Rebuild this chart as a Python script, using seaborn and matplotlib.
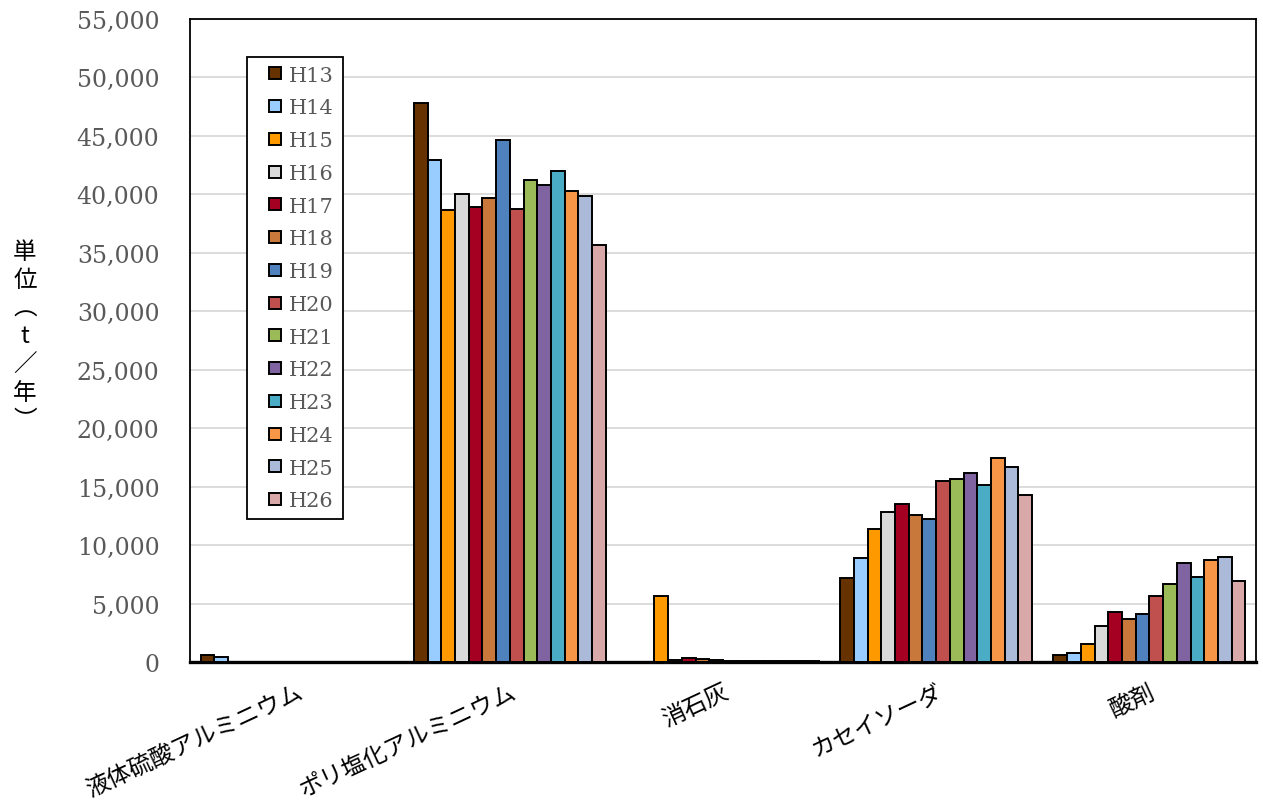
import matplotlib
matplotlib.use("Agg")
import matplotlib.pyplot as plt
import seaborn as sns
import pandas as pd
from matplotlib.patches import Patch, Rectangle
from matplotlib.legend_handler import HandlerPatch
from matplotlib.ticker import FuncFormatter, MultipleLocator

categories = ["液体硫酸アルミニウム", "ポリ塩化アルミニウム", "消石灰", "カセイソーダ", "酸剤"]
years = ["H13", "H14", "H15", "H16", "H17", "H18", "H19",
         "H20", "H21", "H22", "H23", "H24", "H25", "H26"]

liquid_sulfate = [620, 420, 30, 30, 30, 30, 30, 30, 30, 30, 30, 30, 30, 30]
poly_aluminium = [47800, 42900, 38700, 40050, 38950, 39650, 44650,
                  38750, 41250, 40800, 42000, 40250, 39850, 35700]
slaked_lime = [0, 0, 5670, 200, 370, 230, 150, 50, 100, 60, 100, 100, 60, 120]
caustic_soda = [7200, 8900, 11350, 12850, 13500, 12550, 12250,
                15450, 15650, 16200, 15100, 17450, 16650, 14250]
acid = [600, 780, 1550, 3100, 4250, 3650, 4100,
        5650, 6700, 8450, 7250, 8750, 9000, 6900]

colors = ["#663300", "#99ccff", "#ff9900", "#d9d9d9", "#a50021", "#c9783b", "#4f81bd",
          "#c0504d", "#9bbb59", "#8064a2", "#4bacc6", "#f79646", "#aabad8", "#d9a9a9"]

series = [liquid_sulfate, poly_aluminium, slaked_lime, caustic_soda, acid]
rows = []
for cat, vals in zip(categories, series):
    for y, v in zip(years, vals):
        rows.append({"category": cat, "year": y, "value": v})
df = pd.DataFrame(rows)

sns.set_theme(style="white")
plt.rcParams['font.family'] = ['DejaVu Serif', 'Noto Sans CJK JP']

fig = plt.figure(figsize=(12.63, 8.03), dpi=100)
ax = fig.add_axes([190/1263, 1-663/803, 1066/1263, 643/803])

sns.barplot(data=df, x="category", y="value", hue="year", order=categories,
            hue_order=years, palette=colors, saturation=1, width=0.9, gap=0,
            edgecolor="black", linewidth=1.4, errorbar=None, legend=False, ax=ax,
            zorder=3)

ax.set_ylim(0, 55000)
ax.set_xlim(-0.5, 4.5)
ax.yaxis.set_major_locator(MultipleLocator(5000))
ax.yaxis.set_major_formatter(FuncFormatter(lambda v, p: f"{int(v):,}"))
ax.grid(axis="y", color="#d9d9d9", linewidth=1.3, zorder=0)
ax.set_axisbelow(True)
for s in ax.spines.values():
    s.set_color("black")
    s.set_linewidth(1.3)
ax.spines["bottom"].set_linewidth(2.4)
ax.tick_params(axis="both", length=0)
ax.tick_params(axis="y", labelsize=17, labelcolor="#595959", pad=22)
ax.set_xlabel("")
ax.set_ylabel("")
for lab in ax.get_yticklabels():
    lab.set_family(['DejaVu Serif'])

ax.set_xticks(range(len(categories)))
ax.set_xticklabels(categories, rotation=25, ha="right", rotation_mode="anchor",
                   fontsize=17, color="black", family=['Noto Sans CJK JP'])
ax.tick_params(axis="x", pad=13)

ylabel_chars = ["単", "位", "︵", "t", "／", "年", "︶"]
fig.text(25/1263, 1-337/803, "\n".join(ylabel_chars), ha="center", va="center",
         fontsize=17, color="black", family=['Noto Sans CJK JP', 'DejaVu Sans'],
         linespacing=1.28)


def square_patch(legend, orig_handle, xdescent, ydescent, width, height, fontsize):
    s = 0.58 * fontsize
    return Rectangle((-xdescent + width - s, -ydescent + (height - s) / 2), s, s)


handles = [Patch(facecolor=c, edgecolor="black", linewidth=1.4) for c in colors]
leg = ax.legend(handles, years, loc="upper left", bbox_to_anchor=(0.0535, 0.941),
                frameon=True, fancybox=False, edgecolor="black", framealpha=1,
                fontsize=15, handlelength=1.23, handleheight=0.6,
                handletextpad=0.38, labelspacing=0.66, borderpad=0.42,
                borderaxespad=0,
                handler_map={Patch: HandlerPatch(patch_func=square_patch)})
leg.get_frame().set_linewidth(1.3)
for t in leg.get_texts():
    t.set_color("#595959")

fig.savefig("out.png", dpi=100)
